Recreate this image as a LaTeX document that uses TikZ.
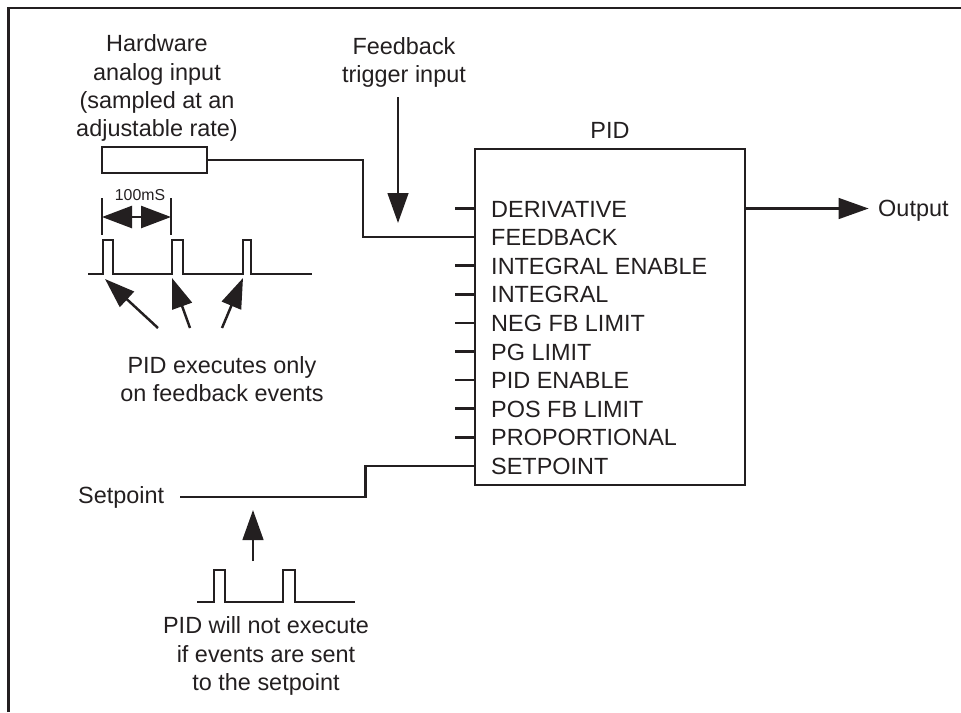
\documentclass[tikz,border=0pt]{standalone}
\usepackage{fontspec}
\setmainfont{Liberation Sans}
\usetikzlibrary{arrows.meta,positioning}
\definecolor{ink}{RGB}{35,31,32}

\begin{document}
\begin{tikzpicture}[x=0.3mm, y=-0.3mm, ink, line width=2.1pt,
    every node/.style={font=\fontsize{20pt}{24pt}\selectfont, text=ink, inner sep=0pt},
    tip/.style={-{Triangle[length=9mm,width=6.2mm]}},
    block/.style={draw, line width=1.6pt},
    small/.style={font=\fontsize{13.5pt}{16pt}\selectfont}]

    \useasboundingbox (0,0) rectangle (961,712);

    % frame
    \draw[line width=2.1pt] (8.5,712) -- (8.5,8) -- (961,8);

    % PID block and its inputs
    \node[block, minimum width=81mm, minimum height=100.8mm] (pid) at (610,317) {};
    \node[above=2.4mm of pid] (pidlbl) {PID};

    \foreach \lbl [count=\i from 0] in {DERIVATIVE, FEEDBACK, INTEGRAL ENABLE, INTEGRAL,
        NEG FB LIMIT, PG LIMIT, PID ENABLE, POS FB LIMIT, PROPORTIONAL, SETPOINT} {
        \node[anchor=base west] (port\i) at (490, 217+28.6*\i) {\lbl};
        \coordinate (pin\i) at (455, 208.5+28.6*\i);
        \draw (pin\i) -- (pin\i -| pid.west);
    }

    % output
    \node[anchor=west] (out) at (877,211) {Output};
    \draw[tip] (pid.east |- pin0) -- ([xshift=-2.5mm]out.west |- pin0);

    % hardware analog input
    \node[align=center] (hwtxt) at (157,88) {Hardware\\analog input\\(sampled at an\\adjustable rate)};
    \node[block, minimum width=31.5mm, minimum height=7.8mm] (sensor) at (154.5,160) {};
    \draw (sensor.east) -- ++(155,0) |- (pin1);

    % feedback trigger
    \node[align=center] (trig) at (404,62) {Feedback\\trigger input};
    \coordinate (trigtop) at (398,97);
    \coordinate (trigend) at (398,223);
    \draw[tip] (trigtop) -- (trigend);

    % feedback events
    \draw (88,274) -- (103,274) -- (103,240) -- (113,240) -- (113,274)
        -- (172,274) -- (172,240) -- (183,240) -- (183,274)
        -- (243,274) -- (243,240) -- (251,240) -- (251,274) -- (312,274);

    \draw (102,198) -- (102,235);
    \draw (171,198) -- (171,235);
    \draw[{Triangle[length=9mm,width=6.6mm]}-{Triangle[length=9mm,width=6.6mm]}] (102,217) -- (171,217);
    \node[small] (period) at (140,195) {100mS};

    \node[align=center] (exec) at (222,379) {PID executes only\\on feedback events};
    \coordinate (ev1) at (105,279);
    \coordinate (ev2) at (172,278);
    \coordinate (ev3) at (243,278);
    \draw[tip] (158,328) -- (ev1);
    \draw[tip] (190,328) -- (ev2);
    \draw[tip] (222,328) -- (ev3);

    % setpoint
    \node[anchor=base west] (sp) at (77,503) {Setpoint};
    \draw ([xshift=4.5mm]sp.east) -- ++(185,0) |- (pin9);

    \coordinate (spbot) at (253,561);
    \coordinate (sptip) at (253,510);
    \draw[tip] (spbot) -- (sptip);

    \draw (197,602) -- (214,602) -- (214,570) -- (225,570) -- (225,602)
        -- (283,602) -- (283,570) -- (295,570) -- (295,602) -- (355,602);

    \node[align=center] (noexec) at (266,656) {PID will not execute\\if events are sent\\to the setpoint};

\end{tikzpicture}
\end{document}
